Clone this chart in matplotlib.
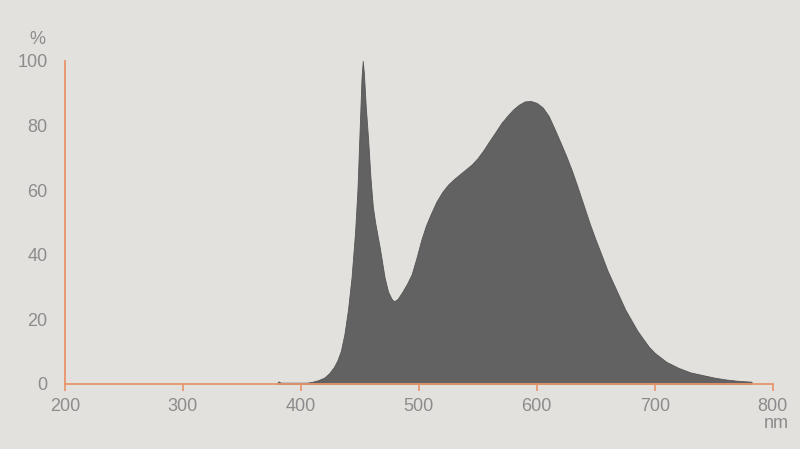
import matplotlib
matplotlib.use("Agg")
import matplotlib.pyplot as plt

plt.rcParams['font.family'] = ['Liberation Sans', 'DejaVu Sans']

# spectrum (nm, relative %)
wavelength = [380, 381, 383, 405, 410, 415, 420, 424, 428, 431, 434, 437, 440, 443, 446, 448,
              450, 451.5, 452.5, 453.5, 455, 457, 459, 461, 463, 465, 467, 469, 471, 474,
              477, 479, 482, 486, 490, 494, 498, 502, 506, 510, 515, 520, 525, 530, 535,
              540, 545, 550, 555, 560, 565, 570, 575, 580, 585, 590, 595, 600, 605, 610,
              615, 620, 625, 630, 635, 640, 645, 650, 655, 660, 665, 670, 675, 680, 685,
              690, 695, 700, 710, 720, 730, 740, 750, 760, 770, 782]
intensity = [0.3, 0.8, 0.4, 0.4, 0.7, 1.2, 2.0, 3.3, 5.2, 7.3, 10.3, 15.5, 23, 33, 47, 60,
             80, 95, 100, 96, 86, 76, 64, 55, 50, 46, 42, 37.5, 33, 28.5,
             26.3, 25.6, 26.3, 28.5, 31, 34, 39, 44.5, 49, 52.5, 56.5, 59.5, 61.8, 63.5, 65,
             66.5, 68, 70, 72.5, 75.3, 78, 80.8, 83, 85, 86.5, 87.5, 87.6, 87, 85.6, 83,
             79, 74.8, 70.5, 65.8, 60.5, 55, 49.5, 44.5, 39.8, 35, 31, 27, 23, 19.8, 16.6,
             14, 11.5, 9.6, 6.8, 5, 3.6, 2.8, 2, 1.4, 1.0, 0.7]

xticks = [200, 300, 400, 500, 600, 700, 800]
yticks = [0, 20, 40, 60, 80, 100]

bg = "#e3e1de"
orange = "#e9946a"
grey_txt = "#8c8c8c"
fill_col = "#626263"

fig = plt.figure(figsize=(8, 4.49), dpi=100, facecolor=bg)
ax = fig.add_axes([0.081, 0.1448, 0.885, 0.7194], facecolor=bg)

ax.fill_between(wavelength, intensity, 0, color=fill_col, linewidth=0.6, edgecolor="#555555")

ax.set_xlim(200, 800)
ax.set_ylim(0, 100)
ax.set_xticks(xticks)
ax.set_yticks(yticks)

for s in ["top", "right"]:
    ax.spines[s].set_visible(False)
for s in ["left", "bottom"]:
    ax.spines[s].set_color(orange)
    ax.spines[s].set_linewidth(1.3)

ax.tick_params(axis="x", direction="out", length=5, width=1.2, color=orange,
               labelcolor=grey_txt, labelsize=13, pad=5)
ax.tick_params(axis="y", length=0, labelcolor=grey_txt, labelsize=13, pad=12.5)

fig.text(37 / 800, 1 - 39 / 449, "%", color=grey_txt, fontsize=13, ha="center", va="center")
fig.text(776 / 800, 1 - 424 / 449, "nm", color=grey_txt, fontsize=13, ha="center", va="center")

fig.savefig("out.png", dpi=100, facecolor=bg)
